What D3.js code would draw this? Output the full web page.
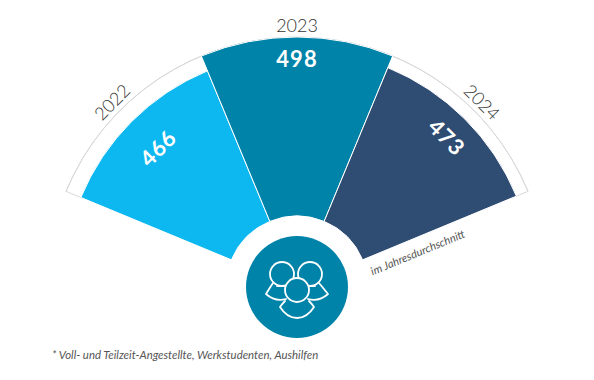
<!DOCTYPE html>
<html><head><meta charset="utf-8">
<script src="https://cdn.jsdelivr.net/npm/d3@7"></script>
<style>html,body{margin:0;background:#fff}svg{display:block}text{font-family:Lato,"Open Sans",sans-serif}</style>
</head><body><div id="c"></div>
<script>
const years = ["2022","2023","2024"];
const values = [466,498,473];
const colors = ["#0db7f0","#0083a9","#2f4c73"];
const valueInsets = [37,21,25];
const note = "im Jahresdurchschnitt";
const footnote = "* Voll- und Teilzeit-Angestellte, Werkstudenten, Aushilfen";

const W=594,H=380,cx=297,cy=287,deg=Math.PI/180;
const svg=d3.select("#c").append("svg").attr("width",W).attr("height",H);
const g=svg.append("g").attr("transform",`translate(${cx},${cy})`);
const angle=d3.scaleBand().domain(years).range([-67.5*deg,67.5*deg]);
const radius=d3.scaleLinear().domain([0,498]).range([0,250]);
const inner=71, outerR=radius(d3.max(values));

const a0=angle.range()[0],a1=angle.range()[1];
const pt=(r,a)=>[r*Math.sin(a),-r*Math.cos(a)];
g.append("path").attr("fill","none").attr("stroke","#d9d9dc").attr("stroke-width",1)
 .attr("d",d3.arc().innerRadius(outerR).outerRadius(outerR).startAngle(a0).endAngle(a1)());
g.selectAll("line.end").data([a0,a1]).join("line").attr("class","end")
 .attr("x1",a=>pt(radius(466)-2,a)[0]).attr("y1",a=>pt(radius(466)-2,a)[1])
 .attr("x2",a=>pt(outerR,a)[0]).attr("y2",a=>pt(outerR,a)[1])
 .attr("stroke","#d9d9dc");

const arc=d3.arc().innerRadius(inner);
g.selectAll("path.bar").data(years).join("path").attr("class","bar")
 .attr("fill",(d,i)=>colors[i]).attr("stroke","#fff").attr("stroke-width",1)
 .attr("d",(d,i)=>arc({outerRadius:radius(values[i]),startAngle:angle(d),endAngle:angle(d)+angle.bandwidth()}));

const mid=d=>angle(d)+angle.bandwidth()/2;
const place=(r,d)=>{const p=pt(r,mid(d));return `translate(${p[0]},${p[1]}) rotate(${mid(d)/deg})`;};
g.selectAll("text.yr").data(years).join("text").attr("class","yr")
 .attr("transform",d=>place(262,d)).attr("text-anchor","middle").attr("dominant-baseline","central")
 .attr("font-size",18).attr("font-weight",300).attr("fill","#333").text(d=>d);
g.selectAll("text.val").data(years).join("text").attr("class","val")
 .attr("transform",(d,i)=>place(radius(values[i])-valueInsets[i],d)).attr("text-anchor","middle").attr("dominant-baseline","central")
 .attr("font-size",22).attr("font-weight",700).attr("letter-spacing",1).attr("fill","#fff").text((d,i)=>values[i]);

g.append("circle").attr("r",51).attr("fill","#0083a9");
const ic=g.append("g").attr("fill","none").attr("stroke","#fff").attr("stroke-width",1.8).attr("stroke-linecap","round").attr("stroke-linejoin","round");
[[-15,-13],[13,-13]].forEach(c=>ic.append("circle").attr("cx",c[0]).attr("cy",c[1]).attr("r",12));
ic.append("path").attr("d","M-24,-4 Q-28,2 -31,7 Q-22,15 -11,12 M-20,-1 L-12,-1 M22,-4 Q27,2 31,7 Q22,15 11,12 M18,-1 L12,-1");
ic.append("circle").attr("cx",0).attr("cy",3).attr("r",12).attr("fill","#0083a9");
ic.append("path").attr("d","M-12,14 Q-15,17 -17,20 Q-10,31 0,31 Q10,31 17,20 Q15,17 12,14");

svg.append("text").attr("transform",`translate(417.5,252) rotate(-22.5)`).attr("text-anchor","middle").attr("dominant-baseline","central")
 .attr("font-size",11.2).attr("font-style","italic").attr("fill","#555").text(note);
svg.append("text").attr("x",52).attr("y",359).attr("font-size",11.4).attr("font-style","italic").attr("fill","#555").text(footnote);
</script></body></html>
